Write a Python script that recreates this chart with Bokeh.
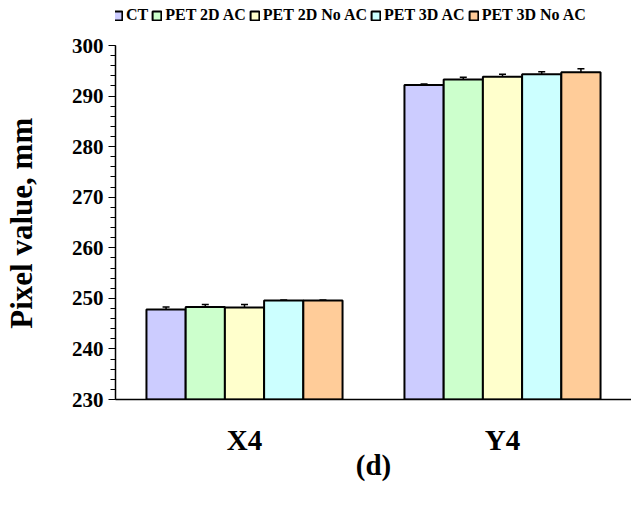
from bokeh.plotting import figure
from bokeh.models import (ColumnDataSource, FactorRange, Range1d, Legend, LegendItem,
                          Whisker, TeeHead, SingleIntervalTicker)
from bokeh.transform import dodge
from bokeh.embed import file_html
from bokeh.resources import INLINE

categories = ["X4", "Y4"]
series = ["CT", "PET 2D AC", "PET 2D No AC", "PET 3D AC", "PET 3D No AC"]
colors = ["#CCCCFF", "#CCFFCC", "#FFFFCC", "#CCFFFF", "#FFCC99"]
values = {
    "CT":           [247.8, 292.2],
    "PET 2D AC":    [248.3, 293.3],
    "PET 2D No AC": [248.2, 293.8],
    "PET 3D AC":    [249.6, 294.3],
    "PET 3D No AC": [249.6, 294.7],
}
errors = {
    "CT":           [0.5, 0.2],
    "PET 2D AC":    [0.5, 0.4],
    "PET 2D No AC": [0.6, 0.5],
    "PET 3D AC":    [0.1, 0.5],
    "PET 3D No AC": [0.1, 0.7],
}

FONT = "Liberation Serif"

p = figure(width=631, height=507, x_range=FactorRange(*categories, range_padding=0),
           y_range=Range1d(230, 308.9), output_backend="svg", toolbar_location=None,
           min_border_left=115, min_border_right=0, min_border_top=0, min_border_bottom=108)
p.outline_line_color = None
p.grid.grid_line_color = None
p.background_fill_color = "white"

bw = 0.152
offsets = [-2 * bw, -bw, 0, bw, 2 * bw]
items = []
for s, c, off in zip(series, colors, offsets):
    top = values[s]
    err = errors[s]
    src = ColumnDataSource(dict(cat=categories, top=top,
                                upper=[t + e for t, e in zip(top, err)],
                                lower=[t - e for t, e in zip(top, err)]))
    r = p.vbar(x=dodge("cat", off, range=p.x_range), top="top", bottom=230, width=bw,
               source=src, fill_color=c, line_color="black", line_width=2)
    w = Whisker(base=dodge("cat", off, range=p.x_range), upper="upper", lower="lower",
                source=src, line_color="black", line_width=1.5,
                upper_head=TeeHead(size=7, line_width=1.5, line_color="black"),
                lower_head=TeeHead(size=7, line_width=1.5, line_color="black"))
    p.add_layout(w)
    items.append(LegendItem(label=s, renderers=[r]))

legend = Legend(items=items, orientation="horizontal", location=(-3, 375),
                label_text_font=FONT, label_text_font_style="bold", label_text_font_size="16px",
                label_text_color="black",
                glyph_width=11, glyph_height=11, label_standoff=3, spacing=3,
                padding=0, margin=0, border_line_color=None, background_fill_alpha=0,
                label_height=12)
p.add_layout(legend, "center")

ya = p.yaxis[0]
ya.ticker = SingleIntervalTicker(interval=10, num_minor_ticks=5)
ya.bounds = (230, 300)
ya.axis_label = "Pixel value, mm" + "\u00a0" * 6
ya.axis_label_text_font = FONT
ya.axis_label_text_font_style = "bold"
ya.axis_label_text_font_size = "31px"
ya.axis_label_text_color = "black"
ya.axis_label_standoff = 30
ya.major_label_text_font = FONT
ya.major_label_text_font_style = "bold"
ya.major_label_text_font_size = "21px"
ya.major_label_text_color = "black"
ya.major_label_standoff = 5
ya.major_tick_in = 0
ya.major_tick_out = 7
ya.minor_tick_in = 0
ya.minor_tick_out = 5
ya.axis_line_width = 1.5
ya.major_tick_line_width = 1.2
ya.minor_tick_line_width = 1.2

xa = p.xaxis[0]
xa.axis_label = "(d)"
xa.axis_label_text_font = FONT
xa.axis_label_text_font_style = "bold"
xa.axis_label_text_font_size = "29px"
xa.axis_label_text_color = "black"
xa.axis_label_standoff = -10
xa.major_label_text_font = FONT
xa.major_label_text_font_style = "bold"
xa.major_label_text_font_size = "29px"
xa.major_label_text_color = "black"
xa.major_label_standoff = 18
xa.major_tick_line_color = None
xa.minor_tick_line_color = None
xa.axis_line_width = 1.5

open("out.html", "w").write(file_html(p, INLINE))
